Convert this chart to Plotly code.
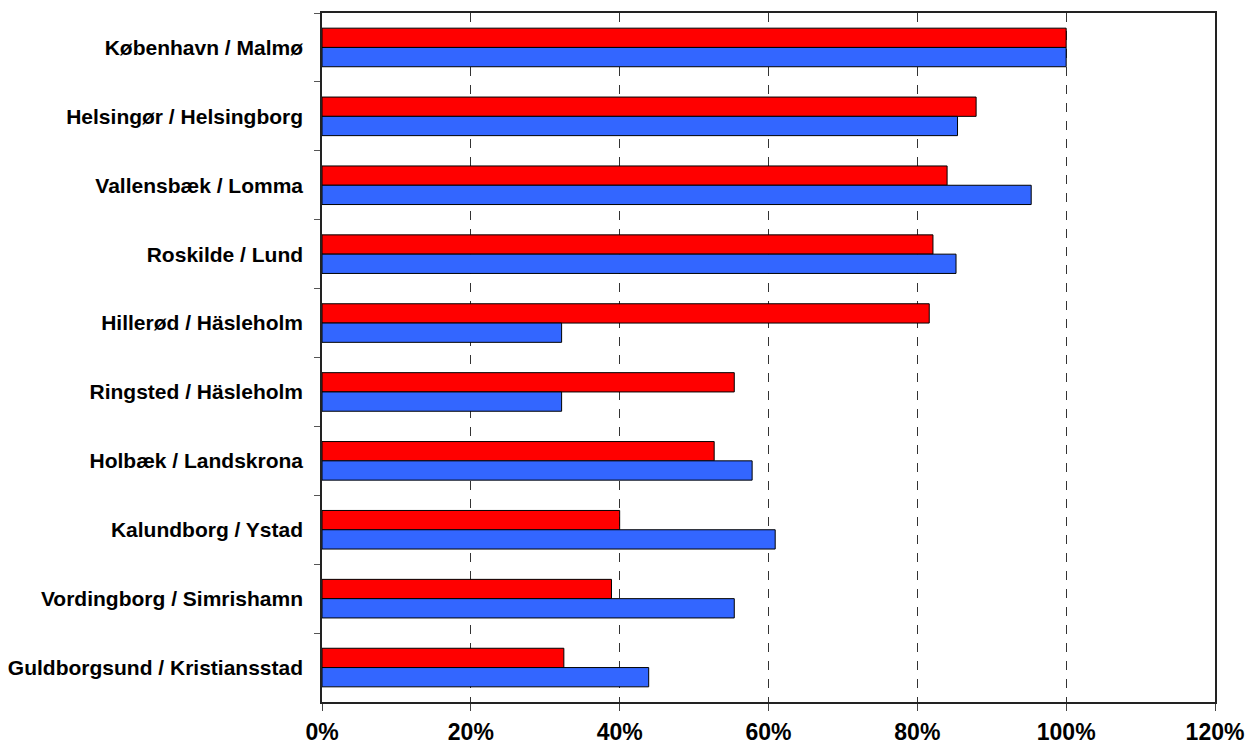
import plotly.graph_objects as go

categories = [
    "København / Malmø",
    "Helsingør / Helsingborg",
    "Vallensbæk / Lomma",
    "Roskilde / Lund",
    "Hillerød / Häsleholm",
    "Ringsted / Häsleholm",
    "Holbæk / Landskrona",
    "Kalundborg / Ystad",
    "Vordingborg / Simrishamn",
    "Guldborgsund / Kristiansstad",
]
red_values = [1.00, 0.879, 0.840, 0.821, 0.816, 0.554, 0.527, 0.400, 0.389, 0.325]
blue_values = [1.00, 0.854, 0.953, 0.852, 0.322, 0.322, 0.578, 0.609, 0.554, 0.439]
tick_vals = [0, 0.2, 0.4, 0.6, 0.8, 1.0, 1.2]
tick_text = ["0%", "20%", "40%", "60%", "80%", "100%", "120%"]

fig = go.Figure()
fig.add_trace(go.Bar(y=categories, x=red_values, orientation="h", name="red",
                     marker=dict(color="#FF0000", line=dict(color="#000000", width=1))))
fig.add_trace(go.Bar(y=categories, x=blue_values, orientation="h", name="blue",
                     marker=dict(color="#3366FF", line=dict(color="#000000", width=1))))

fig.update_layout(
    width=1249, height=749,
    margin=dict(l=322, r=34, t=13, b=47),
    barmode="group", bargap=0.44, bargroupgap=0,
    showlegend=False,
    plot_bgcolor="white", paper_bgcolor="white",
    font=dict(family="Liberation Sans, Arial, sans-serif", color="black"),
)
fig.update_xaxes(
    range=[0, 1.2], tickvals=tick_vals, ticktext=tick_text, automargin=False,
    showgrid=True, gridcolor="#333333", griddash="dash", gridwidth=1,
    showline=True, linecolor="#222222", linewidth=1.5, mirror=True,
    ticks="outside", ticklen=7, tickcolor="#444444", zeroline=False,
    tickfont=dict(size=23, weight="bold"), ticklabelstandoff=2,
)
fig.update_yaxes(
    categoryorder="array", categoryarray=categories, autorange="reversed",
    automargin=False,
    showgrid=False, showline=True, linecolor="#222222", linewidth=1.5, mirror=True,
    ticks="outside", ticklen=6, tickcolor="#555555", tickson="boundaries",
    tickfont=dict(size=21, weight="bold"), ticklabelstandoff=13,
)
fig.write_html("out.html")
